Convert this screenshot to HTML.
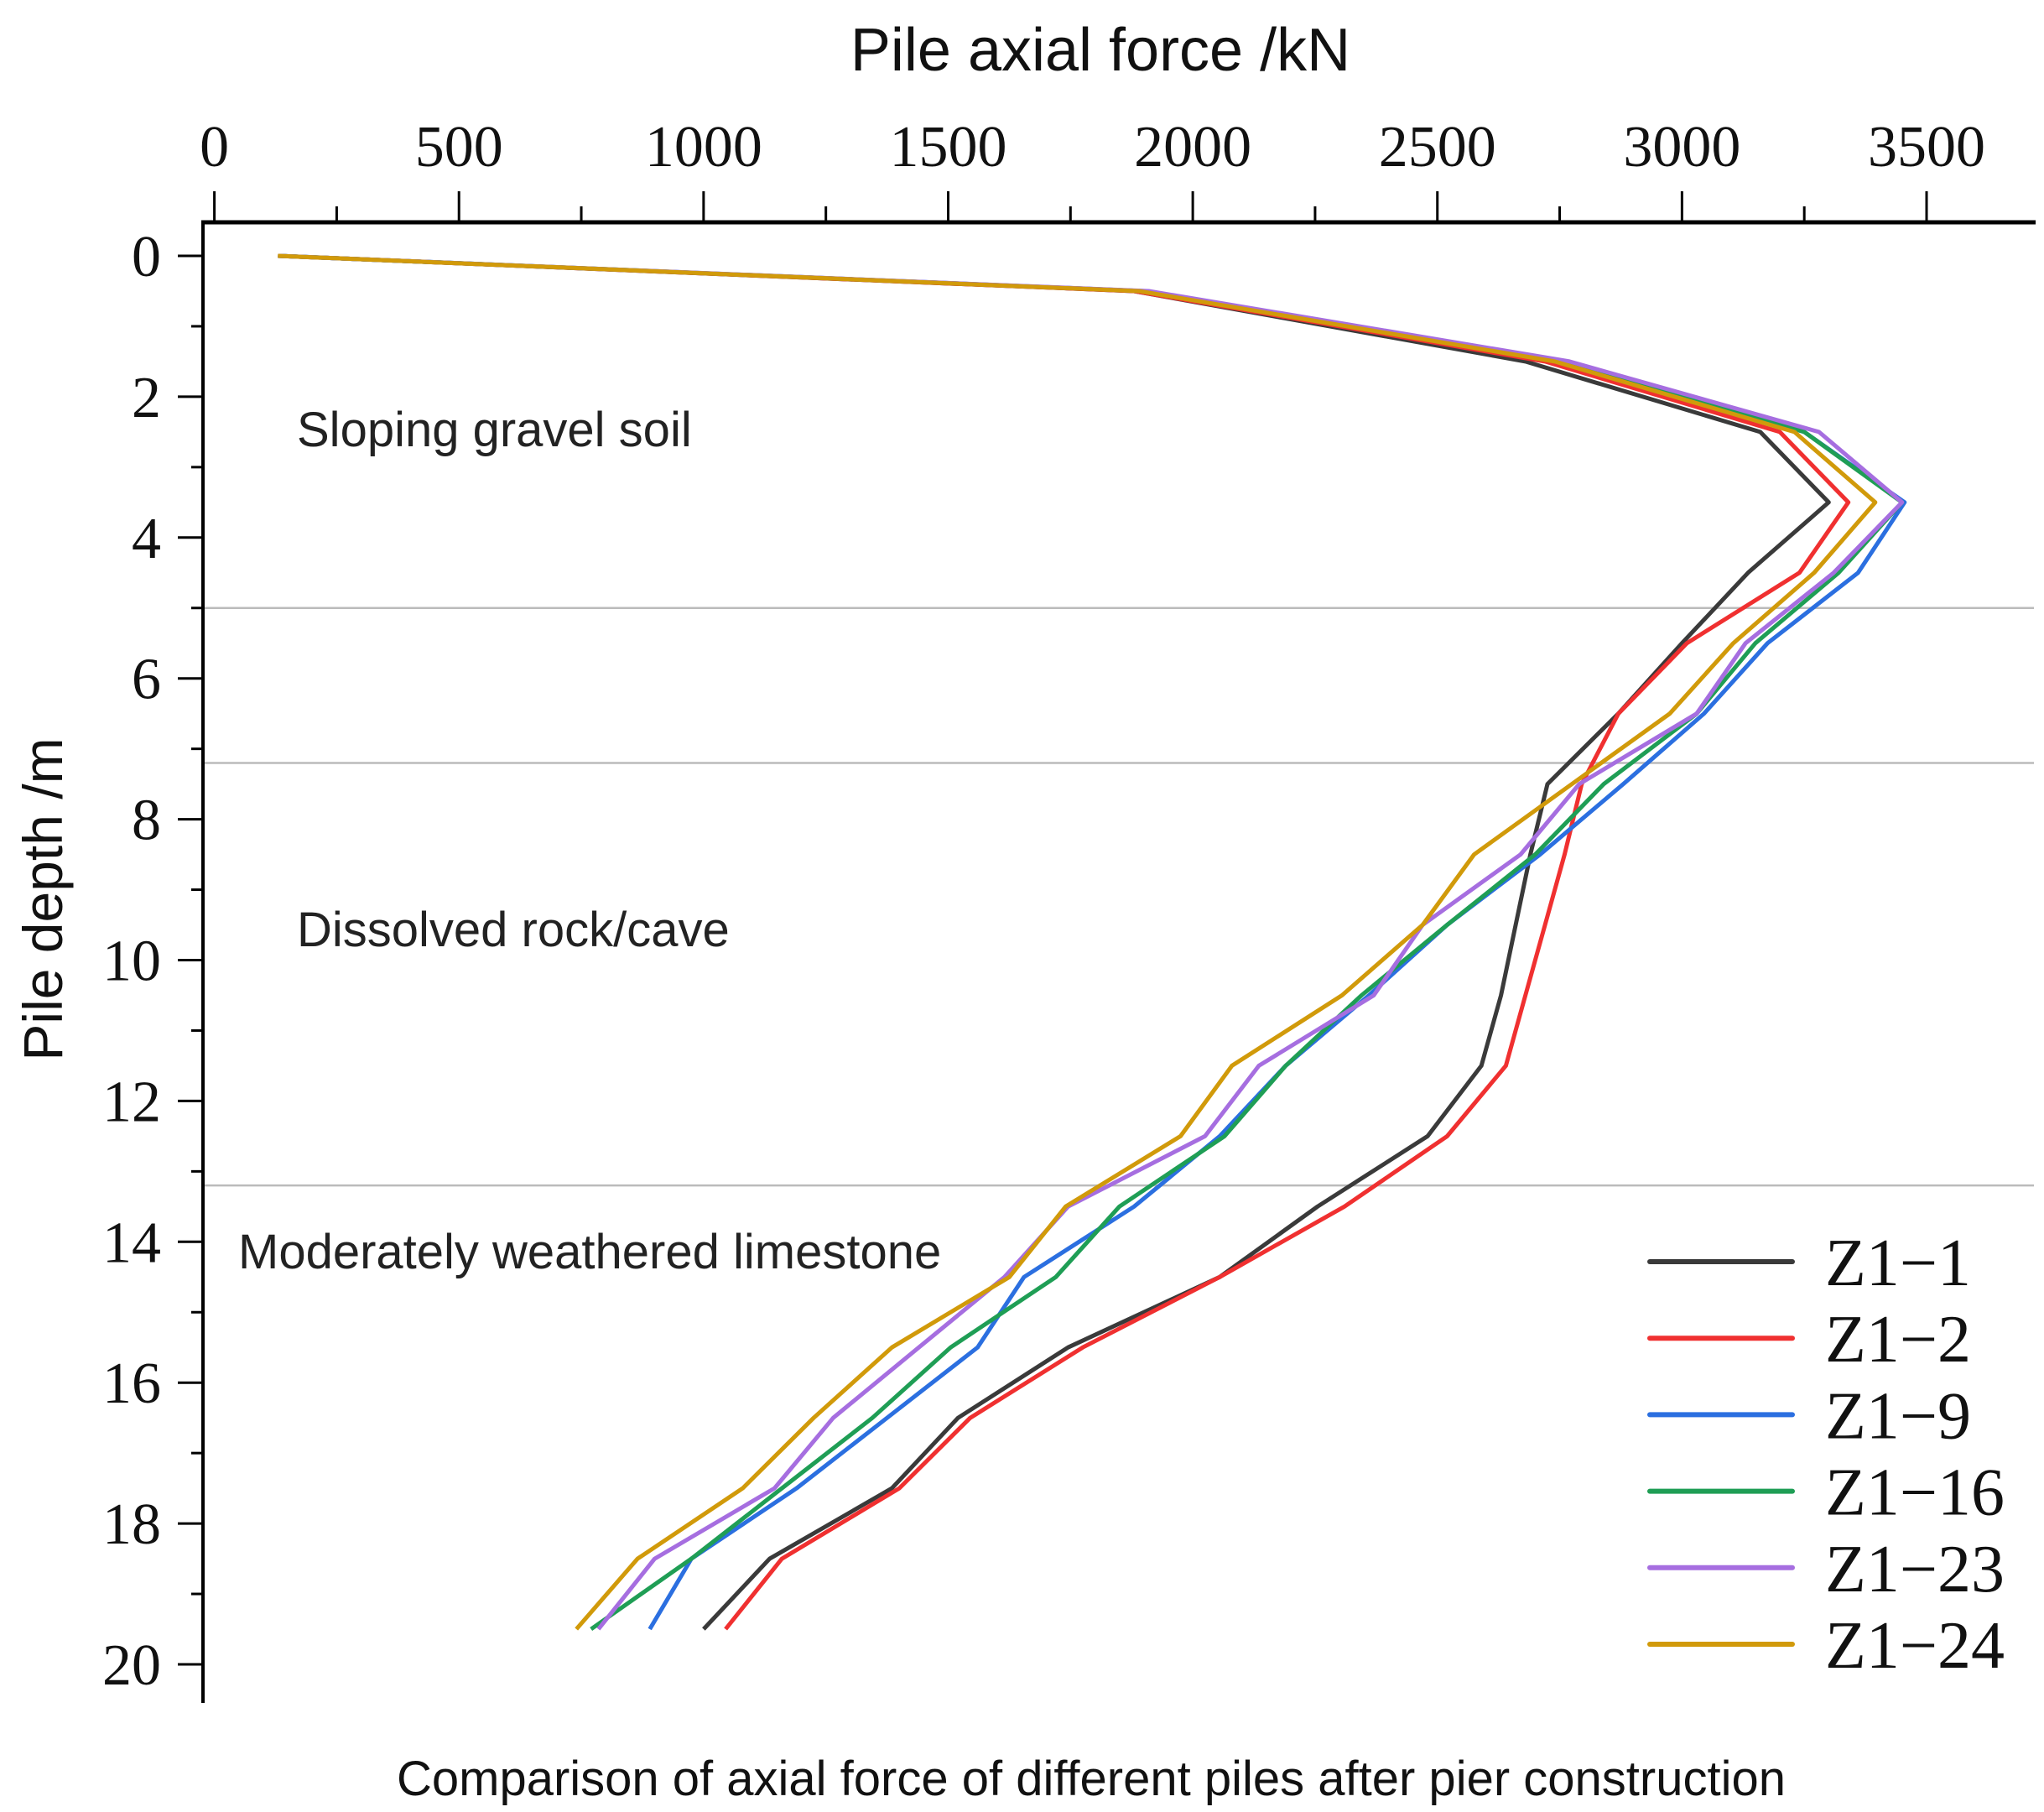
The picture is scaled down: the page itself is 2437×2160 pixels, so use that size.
<!DOCTYPE html>
<html><head><meta charset="utf-8"><style>
body{margin:0;background:#fff;}
svg{display:block;}
.tk{font-family:"Liberation Serif",serif;font-size:70px;fill:#111;}
.an{font-family:"Liberation Sans","DejaVu Sans",sans-serif;font-size:58px;fill:#222;}
</style></head><body>
<svg id="chart" width="2437" height="2160" viewBox="0 0 2437 2160" xmlns="http://www.w3.org/2000/svg">
<text x="1312" y="84" text-anchor="middle" font-family="Liberation Sans, DejaVu Sans, sans-serif" font-size="72" fill="#111">Pile axial force /kN</text>
<text transform="translate(74,1072) rotate(-90)" text-anchor="middle" font-family="Liberation Sans, DejaVu Sans, sans-serif" font-size="66" fill="#111">Pile depth /m</text>
<text x="1301" y="2140" text-anchor="middle" font-family="Liberation Sans, DejaVu Sans, sans-serif" font-size="58" fill="#111">Comparison of axial force of different piles after pier construction</text>
<g id="grid"></g>
<g id="axes"></g>
<g id="series"></g>
<text class="an" x="354" y="532">Sloping gravel soil</text>
<text class="an" x="354" y="1128">Dissolved rock/cave</text>
<text class="an" x="284" y="1512">Moderately weathered limestone</text>
<g id="legend"></g>
</svg>
<script>
const depths=[0,0.5,1.5,2.5,3.5,4.5,5.5,6.5,7.5,8.5,9.5,10.5,11.5,12.5,13.5,14.5,15.5,16.5,17.5,18.5,19.5];
const z1_1=[130,1880,2680,3160,3300,3135,3000,2870,2725,2690,2660,2630,2590,2480,2255,2055,1745,1520,1385,1135,1000];
const z1_2=[130,1880,2720,3200,3340,3240,3010,2870,2795,2760,2720,2680,2640,2520,2310,2055,1775,1545,1400,1160,1045];
const z1_9=[130,1900,2760,3250,3455,3360,3175,3045,2880,2710,2520,2360,2190,2055,1880,1655,1560,1375,1190,975,890];
const z1_16=[130,1900,2760,3250,3450,3320,3150,3030,2840,2700,2520,2345,2190,2065,1850,1720,1505,1345,1160,975,770];
const z1_23=[130,1910,2770,3280,3450,3310,3130,3030,2790,2670,2470,2370,2135,2025,1745,1615,1440,1265,1145,900,785];
const z1_24=[130,1890,2740,3230,3395,3270,3105,2975,2775,2575,2470,2305,2080,1975,1740,1625,1385,1225,1080,865,740];
const seriesNames=["Z1\u22121","Z1\u22122","Z1\u22129","Z1\u221216","Z1\u221223","Z1\u221224"];
const seriesColors=["#3a3a3a","#f03030","#2b6fe0","#1f9e55","#a66ee0","#d19a0a"];
const xTicks=[0,500,1000,1500,2000,2500,3000,3500];
const yTicks=[0,2,4,6,8,10,12,14,16,18,20];
const layerDepths=[5.0,7.2,13.2];
const all=[z1_1,z1_2,z1_9,z1_16,z1_23,z1_24];
const NS="http://www.w3.org/2000/svg";
function X(v){return 255.6+v*(2041.4/3500);}
function Y(d){return 305+d*(1984-305)/20;}
function mk(t,a,p){const e=document.createElementNS(NS,t);for(const k in a)e.setAttribute(k,a[k]);p.appendChild(e);return e;}
const grid=document.getElementById('grid'),axes=document.getElementById('axes'),ser=document.getElementById('series'),leg=document.getElementById('legend');
layerDepths.forEach(d=>{const l=mk('line',{x1:242,x2:2425,y1:Y(d),y2:Y(d),stroke:'#bbb','stroke-width':2.5},grid);

});
let a=mk('line',{x1:240,x2:2427,y1:265,y2:265,stroke:'#000','stroke-width':5},axes);


a=mk('line',{x1:242,x2:242,y1:263,y2:2030,stroke:'#000','stroke-width':4},axes);


for(let v=0;v<=3750;v+=250){const major=v%500===0;mk('line',{x1:X(v),x2:X(v),y1:265,y2:major?228:246,stroke:'#000','stroke-width':3},axes);}
xTicks.forEach(v=>{const t=mk('text',{x:X(v),y:198,'text-anchor':'middle',class:'tk'},axes);t.textContent=v;

});
for(let d=0;d<=20;d++){const major=d%2===0;mk('line',{x1:242,x2:major?212:228,y1:Y(d),y2:Y(d),stroke:'#000','stroke-width':3},axes);}
yTicks.forEach(d=>{const t=mk('text',{x:192,y:Y(d)+24,'text-anchor':'end',class:'tk'},axes);t.textContent=d;

});
all.forEach((s,i)=>{const pts=s.map((v,j)=>X(v).toFixed(1)+','+Y(depths[j]).toFixed(1)).join(' ');
const p=mk('polyline',{points:pts,fill:'none',stroke:seriesColors[i],'stroke-width':5,'stroke-linejoin':'round'},ser);


const y=1504+i*91.2;
const g=mk('g',{},leg);


mk('line',{x1:1967,x2:2137,y1:y,y2:y,stroke:seriesColors[i],'stroke-width':6,'stroke-linecap':'round'},g);
const t=mk('text',{x:2176,y:y+28,'font-family':'Liberation Serif, serif','font-size':80,fill:'#111'},g);t.textContent=seriesNames[i];});
</script>
</body></html>
